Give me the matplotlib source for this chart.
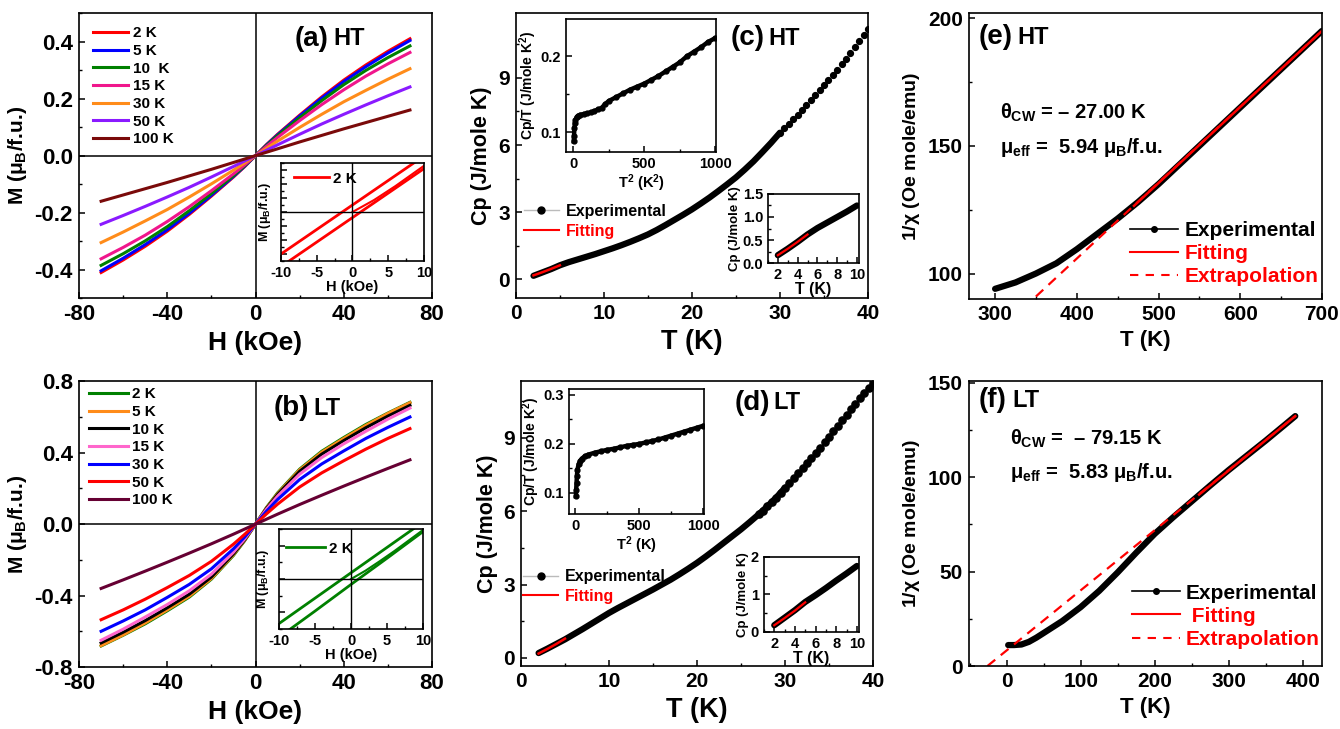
import numpy as np
import matplotlib
matplotlib.use("Agg")
import matplotlib.pyplot as plt
from matplotlib.lines import Line2D
from matplotlib.ticker import MultipleLocator, FormatStrFormatter

plt.rcParams.update({
    'font.family': ['Liberation Sans', 'DejaVu Sans'],
    'font.weight': 'bold',
    'axes.labelweight': 'bold',
    'axes.unicode_minus': False,
    'xtick.direction': 'in',
    'ytick.direction': 'in',
    'mathtext.fontset': 'custom',
    'mathtext.rm': 'Liberation Sans:bold',
    'mathtext.it': 'Liberation Sans:bold',
    'mathtext.bf': 'Liberation Sans:bold',
    'axes.linewidth': 1.2,
})

# ---------------- data ----------------
# (a) M-H, HT
H_field = [-70, -60, -50, -40, -30, -20, -10, -5, 0, 5, 10, 20, 30, 40, 50, 60, 70]
mh_ht_labels = ['2 K', '5 K', '10  K', '15 K', '30 K', '50 K', '100 K']
mh_ht_colors = ['#ff0000', '#0000ff', '#008000', '#f0168c', '#ff8c1a', '#8a1aff', '#7a0a0a']
mh_ht_2K = [-0.410, -0.366, -0.318, -0.265, -0.206, -0.142, -0.075, -0.039, 0, 0.039, 0.075, 0.142, 0.206, 0.265, 0.318, 0.366, 0.410]
mh_ht_5K = [-0.404, -0.360, -0.312, -0.260, -0.202, -0.139, -0.073, -0.038, 0, 0.038, 0.073, 0.139, 0.202, 0.260, 0.312, 0.360, 0.404]
mh_ht_10K = [-0.385, -0.344, -0.299, -0.249, -0.193, -0.133, -0.070, -0.036, 0, 0.036, 0.070, 0.133, 0.193, 0.249, 0.299, 0.344, 0.385]
mh_ht_15K = [-0.362, -0.322, -0.279, -0.231, -0.179, -0.123, -0.064, -0.033, 0, 0.033, 0.064, 0.123, 0.179, 0.231, 0.279, 0.322, 0.362]
mh_ht_30K = [-0.305, -0.268, -0.229, -0.189, -0.145, -0.099, -0.051, -0.026, 0, 0.026, 0.051, 0.099, 0.145, 0.189, 0.229, 0.268, 0.305]
mh_ht_50K = [-0.241, -0.210, -0.178, -0.145, -0.111, -0.075, -0.038, -0.019, 0, 0.019, 0.038, 0.075, 0.111, 0.145, 0.178, 0.210, 0.241]
mh_ht_100K = [-0.160, -0.138, -0.116, -0.094, -0.071, -0.048, -0.024, -0.012, 0, 0.012, 0.024, 0.048, 0.071, 0.094, 0.116, 0.138, 0.160]

# (b) M-H, LT
mh_lt_labels = ['2 K', '5 K', '10 K', '15 K', '30 K', '50 K', '100 K']
mh_lt_colors = ['#008000', '#ff8c1a', '#000000', '#ff66cc', '#0000ff', '#ff0000', '#660033']
mh_lt_2K = [-0.682, -0.622, -0.558, -0.485, -0.408, -0.308, -0.175, -0.094, 0, 0.094, 0.175, 0.308, 0.408, 0.485, 0.558, 0.622, 0.682]
mh_lt_5K = [-0.680, -0.620, -0.553, -0.480, -0.403, -0.304, -0.171, -0.092, 0, 0.092, 0.171, 0.304, 0.403, 0.480, 0.553, 0.620, 0.680]
mh_lt_10K = [-0.665, -0.605, -0.540, -0.468, -0.392, -0.296, -0.166, -0.089, 0, 0.089, 0.166, 0.296, 0.392, 0.468, 0.540, 0.605, 0.665]
mh_lt_15K = [-0.650, -0.588, -0.520, -0.450, -0.373, -0.280, -0.157, -0.084, 0, 0.084, 0.157, 0.280, 0.373, 0.450, 0.520, 0.588, 0.650]
mh_lt_30K = [-0.600, -0.542, -0.480, -0.410, -0.337, -0.250, -0.138, -0.073, 0, 0.073, 0.138, 0.250, 0.337, 0.410, 0.480, 0.542, 0.600]
mh_lt_50K = [-0.535, -0.480, -0.420, -0.355, -0.287, -0.208, -0.112, -0.058, 0, 0.058, 0.112, 0.208, 0.287, 0.355, 0.420, 0.480, 0.535]
mh_lt_100K = [-0.360, -0.312, -0.263, -0.213, -0.162, -0.110, -0.056, -0.028, 0, 0.028, 0.056, 0.110, 0.162, 0.213, 0.263, 0.312, 0.360]

# hysteresis loops at 2 K (insets)
loop_H = [-10, -5, 0, 5, 10]
loop_ht_up = [-0.060, -0.025, 0.010, 0.045, 0.080]
loop_ht_down = [-0.078, -0.043, -0.008, 0.027, 0.062]
virgin_ht_H = [0, 3, 6, 10]
virgin_ht_M = [0, 0.017, 0.037, 0.066]
loop_lt_up = [-0.107, -0.046, 0.015, 0.076, 0.137]
loop_lt_down = [-0.140, -0.077, -0.013, 0.050, 0.114]
virgin_lt_H = [0, 2, 4, 6, 10]
virgin_lt_M = [0, 0.020, 0.043, 0.067, 0.118]

# (c)/(d) heat capacity, dense part (1 K steps)
T_cp = list(range(2, 31))
cp_ht = [0.15, 0.30, 0.45, 0.62, 0.76, 0.88, 1.00, 1.12, 1.25, 1.38, 1.52, 1.67, 1.83, 2.00,
         2.20, 2.42, 2.65, 2.88, 3.12, 3.38, 3.65, 3.94, 4.24, 4.55, 4.90, 5.27, 5.68, 6.10, 6.55]
cp_lt = [0.20, 0.38, 0.57, 0.76, 0.97, 1.18, 1.40, 1.62, 1.84, 2.04, 2.23, 2.42, 2.61, 2.80,
         3.00, 3.20, 3.42, 3.65, 3.89, 4.15, 4.42, 4.70, 4.98, 5.26, 5.56, 5.87, 6.20, 6.56, 6.96]
# sparse part (separate dots)
T_hi_ht = [30, 30.5, 31, 31.5, 32, 32.5, 33, 33.5, 34, 34.5, 35, 35.5, 36, 36.5, 37, 37.5, 38,
           38.5, 39, 39.5, 40]
cp_hi_ht = [6.55, 6.75, 6.95, 7.15, 7.35, 7.56, 7.78, 8.00, 8.22, 8.44, 8.67, 8.90, 9.13, 9.37,
            9.62, 9.87, 10.12, 10.38, 10.65, 10.92, 11.20]
T_hi_lt = [27, 27.5, 28, 28.5, 29, 29.5, 30, 30.5, 31, 31.5, 32, 32.5, 33, 33.5, 34, 34.5, 35,
           35.5, 36, 36.5, 37, 37.5, 38, 38.5, 39, 39.5, 40]
cp_hi_lt = [5.87, 6.03, 6.20, 6.38, 6.56, 6.76, 6.96, 7.15, 7.35, 7.55, 7.75, 7.96, 8.17, 8.38,
            8.60, 8.82, 9.05, 9.27, 9.50, 9.72, 9.95, 10.17, 10.40, 10.62, 10.85, 11.05, 11.25]
T_fit = [2, 3, 4, 5]
cp_fit_ht = [0.17, 0.31, 0.46, 0.62]
cp_fit_lt = [0.18, 0.37, 0.57, 0.79]

# Cp/T vs T^2 insets
T2_ht = [4, 6, 9, 12, 16, 25, 36, 50, 75, 100, 125, 150, 175, 200, 225, 250, 300, 350, 400,
         450, 500, 550, 600, 650, 700, 750, 800, 850, 900, 950, 1000]
cpT_ht = [0.088, 0.095, 0.105, 0.112, 0.116, 0.120, 0.122, 0.123, 0.124, 0.125, 0.126, 0.128,
          0.130, 0.132, 0.137, 0.141, 0.146, 0.151, 0.156, 0.160, 0.164, 0.169, 0.174, 0.180,
          0.186, 0.192, 0.200, 0.206, 0.212, 0.219, 0.224]
T2_lt = [4, 6, 9, 12, 16, 25, 36, 50, 75, 100, 150, 200, 250, 300, 350, 400, 450, 500, 550,
         600, 650, 700, 750, 800, 850, 900, 950, 1000]
cpT_lt = [0.093, 0.105, 0.120, 0.135, 0.147, 0.158, 0.165, 0.170, 0.175, 0.178, 0.182, 0.185,
          0.188, 0.190, 0.193, 0.196, 0.198, 0.200, 0.203, 0.206, 0.209, 0.213, 0.217, 0.221,
          0.225, 0.229, 0.233, 0.237]

# low-T Cp insets
T_low = [2, 3, 4, 5, 6, 7, 8, 9, 10]
cp_low_ht = [0.17, 0.31, 0.46, 0.62, 0.76, 0.88, 1.00, 1.12, 1.25]
cp_low_lt = [0.18, 0.38, 0.58, 0.80, 0.98, 1.17, 1.37, 1.56, 1.76]

# (e) inverse susceptibility HT
T_ht = [300, 325, 350, 375, 400, 425, 450, 475, 500, 525, 550, 575, 600, 625, 650, 675, 700]
invchi_ht = [94.0, 96.5, 100.0, 104.0, 109.5, 115.5, 121.5, 128.0, 135.0, 142.5, 150.0,
             157.5, 165.0, 172.5, 180.0, 187.5, 195.0]
T_fit_ht = [470, 700]
fit_ht = [126.5, 195.0]
T_ext_ht = [350, 700]
ext_ht = [91.0, 195.0]

# (f) inverse susceptibility LT
T_lt = [2, 10, 20, 30, 40, 50, 75, 100, 125, 150, 175, 200, 225, 250, 275, 300, 325, 350, 375, 390]
invchi_lt = [11.1, 11.1, 11.4, 12.8, 15.0, 17.5, 23.8, 31.2, 39.8, 49.6, 60.0, 70.0, 78.8,
             87.2, 95.6, 103.8, 111.6, 119.4, 127.5, 132.4]
T_fit_lt = [260, 390]
fit_lt = [90.8, 132.4]
T_ext_lt = [-26, 390]
ext_lt = [0.0, 132.4]


def style(ax, xmaj, xmin, ymaj, ymin, size, pad=3.5):
    ax.xaxis.set_major_locator(MultipleLocator(xmaj))
    ax.xaxis.set_minor_locator(MultipleLocator(xmin))
    ax.yaxis.set_major_locator(MultipleLocator(ymaj))
    ax.yaxis.set_minor_locator(MultipleLocator(ymin))
    ax.tick_params(which='major', length=4, width=1.1, labelsize=size, pad=pad)
    ax.tick_params(which='minor', length=2.2, width=1.0)


fig = plt.figure(figsize=(13.4, 7.29), dpi=100)


def mh_panel(rect, curves, colors, labels, ylim, ymaj, tag, leg_y, hl):
    ax = fig.add_axes(rect)
    for m, c, lab in zip(curves, colors, labels):
        ax.plot(H_field, m, color=c, lw=2.2, label=lab)
    ax.axhline(0, color='k', lw=1.1, zorder=0)
    ax.axvline(0, color='k', lw=1.1, zorder=0)
    ax.set_xlim(-80, 80)
    ax.set_ylim(*ylim)
    style(ax, 40, 20, ymaj, ymaj / 2, 16, pad=4.5)
    ax.set_xlabel('H (kOe)', fontsize=19)
    ax.set_ylabel(r'M ($\mu_B$/f.u.)', fontsize=15)
    ax.legend(loc='upper left', bbox_to_anchor=(leg_y[0], leg_y[1]), frameon=False, fontsize=11,
              borderpad=0, labelspacing=0.24, handlelength=hl, handletextpad=0.3)
    ax.text(tag[0], tag[2], tag[3], transform=ax.transAxes, fontsize=20, va='center')
    ax.text(tag[1], tag[2], tag[4], transform=ax.transAxes, fontsize=17, va='center')


def loop_inset(rect, up, down, vH, vM, color, ylim, ymaj, leg_xy, hl):
    ins = fig.add_axes(rect)
    ins.plot(loop_H, up, color=color, lw=2, label='2 K')
    ins.plot(loop_H, down, color=color, lw=2)
    ins.plot(vH, vM, color=color, lw=1.5)
    ins.axhline(0, color='k', lw=1)
    ins.axvline(0, color='k', lw=1)
    ins.set_xlim(-10, 10)
    ins.set_ylim(*ylim)
    style(ins, 5, 2.5, ymaj, ymaj / 2, 10.5)
    ins.set_yticklabels([])
    ins.set_xlabel('H (kOe)', fontsize=10.5, labelpad=0)
    ins.set_ylabel(r'M ($\mu_B$/f.u.)', fontsize=9, labelpad=2)
    ins.legend(loc='upper left', bbox_to_anchor=leg_xy, frameon=False, fontsize=11,
               borderpad=0, handlelength=hl, handletextpad=0.3)


# ---------- (a) / (b) ----------
mh_panel([0.059, 0.591, 0.2634, 0.391],
         [mh_ht_2K, mh_ht_5K, mh_ht_10K, mh_ht_15K, mh_ht_30K, mh_ht_50K, mh_ht_100K],
         mh_ht_colors, mh_ht_labels, (-0.5, 0.5), 0.2, (0.612, 0.72, 0.91, '(a)', 'HT'),
         (0.018, 0.98), 2.3)
loop_inset([0.2097, 0.642, 0.1067, 0.1344], loop_ht_up, loop_ht_down, virgin_ht_H, virgin_ht_M,
           '#ff0000', (-0.07, 0.07), 0.02, (0.035, 0.99), 2.3)

mh_panel([0.059, 0.085, 0.2634, 0.392],
         [mh_lt_2K, mh_lt_5K, mh_lt_10K, mh_lt_15K, mh_lt_30K, mh_lt_50K, mh_lt_100K],
         mh_lt_colors, mh_lt_labels, (-0.8, 0.8), 0.4, (0.552, 0.663, 0.906, '(b)', 'LT'),
         (0.006, 1.005), 2.55)
loop_inset([0.2082, 0.1372, 0.1075, 0.137], loop_lt_up, loop_lt_down, virgin_lt_H, virgin_lt_M,
           '#008000', (-0.12, 0.12), 0.08, (-0.005, 0.95), 2.55)

# ---------- (c) / (d) ----------
exp_handle = Line2D([], [], color='#bbbbbb', lw=1, marker='o', mfc='k', mec='k', ms=5)


def cp_panel(rect, cp, T_hi, cp_hi, cpfit, ylim, tag, label, ly, ms, in1, T2, cpT, in1_ylim, in1_xl,
             in2, cplow, in2_ylim, in2_yt):
    ax = fig.add_axes(rect)
    ax.plot(T_cp, cp, '-', color='k', lw=4.5, solid_capstyle='round')
    ax.plot(T_hi, cp_hi, 'o', color='k', ms=ms)
    ax.plot(T_fit, cpfit, color='#ff0000', lw=1.8)
    ax.set_xlim(0, 40)
    ax.set_ylim(*ylim)
    style(ax, 10, 5, 3, 1.5, 15, pad=4.5)
    ax.set_xlabel('T (K)', fontsize=19.5)
    ax.set_ylabel('Cp (J/mole K)', fontsize=15.5)
    leg = ax.legend([exp_handle, Line2D([], [], color='#ff0000', lw=1.5)], ['Experimental', 'Fitting'],
                    loc='upper left', bbox_to_anchor=ly, frameon=False, fontsize=11.5,
                    borderpad=0, labelspacing=0.3, handlelength=2.2, handletextpad=0.4)
    leg.get_texts()[1].set_color('#ff0000')
    ax.text(tag[0], tag[2], tag[3], transform=ax.transAxes, fontsize=20, va='center')
    ax.text(tag[1], tag[2], label, transform=ax.transAxes, fontsize=17, va='center')

    i1 = fig.add_axes(in1)
    i1.plot(T2, cpT, '-o', color='k', lw=3.2, ms=3.5)
    i1.set_xlim(-50, 1005)
    i1.set_ylim(*in1_ylim)
    style(i1, 500, 250, 0.1, 0.05, 10.5)
    i1.set_xlabel(in1_xl, fontsize=10.5, labelpad=1)
    i1.set_ylabel(r'Cp/T (J/mole K$^2$)', fontsize=10, labelpad=1)

    i2 = fig.add_axes(in2)
    i2.plot(T_low, cplow, '-', color='k', lw=4.5, solid_capstyle='round')
    i2.plot(T_fit, cpfit, color='#ff0000', lw=1.6)
    i2.set_xlim(1.0, 10.2)
    i2.set_ylim(*in2_ylim)
    style(i2, 2, 1, in2_yt, in2_yt / 2, 10.5)
    if in2_yt < 1:
        i2.yaxis.set_major_formatter(FormatStrFormatter('%.1f'))
    i2.set_xlabel('T (K)', fontsize=11.5, labelpad=0)
    i2.set_ylabel('Cp (J/mole K)', fontsize=9.5, labelpad=1)


cp_panel([0.385, 0.591, 0.2627, 0.391], cp_ht, T_hi_ht, cp_hi_ht, cp_fit_ht, (-0.85, 11.9),
         (0.61, 0.716, 0.912, '(c)'), 'HT', (0.0, 0.359), 4.2,
         [0.4224, 0.7915, 0.112, 0.1824], T2_ht, cpT_ht, (0.074, 0.249),
         r'T$^2$ (K$^2$)', [0.5731, 0.6392, 0.0679, 0.0947], cp_low_ht, (0, 1.5), 0.5)
cp_panel([0.3888, 0.0864, 0.2627, 0.391], cp_lt, T_hi_lt, cp_hi_lt, cp_fit_lt, (-0.33, 11.33),
         (0.608, 0.716, 0.923, '(d)'), 'LT', (-0.017, 0.368), 5.2,
         [0.4246, 0.2949, 0.1007, 0.1715], T2_lt, cpT_lt, (0.057, 0.312),
         r'T$^2$ (K)', [0.5701, 0.1331, 0.0709, 0.1029], cp_low_lt, (0, 2), 1)

# ---------- (e) / (f) ----------


def chi_panel(rect, T, y, Tf, yf, Te, ye, xlim, ylim, tag, label, txt, leg_xy, fit_label):
    ax = fig.add_axes(rect)
    ax.plot(T, y, '-', color='k', lw=4.5, solid_capstyle='round')
    ax.plot(Te, ye, color='#ff0000', lw=1.6, ls=(0, (4.5, 3.2)))
    ax.plot(Tf, yf, color='#ff0000', lw=1.8)
    ax.set_xlim(*xlim)
    ax.set_ylim(*ylim)
    style(ax, 100, 50, 50, 25, 15, pad=4.5)
    ax.set_xlabel('T (K)', fontsize=16)
    ax.set_ylabel(r'1/$\chi$ (Oe mole/emu)', fontsize=14)
    handles = [Line2D([], [], color='k', lw=1.2, marker='o', ms=4),
               Line2D([], [], color='#ff0000', lw=1.5),
               Line2D([], [], color='#ff0000', lw=1.5, ls=(0, (4, 3.5)))]
    leg = ax.legend(handles, ['Experimental', fit_label, 'Extrapolation'], loc='upper left',
                    bbox_to_anchor=leg_xy, frameon=False, fontsize=15, borderpad=0,
                    labelspacing=0.2, handlelength=2.3, handletextpad=0.3)
    leg.get_texts()[1].set_color('#ff0000')
    leg.get_texts()[2].set_color('#ff0000')
    ax.text(tag[0], tag[2], tag[3], transform=ax.transAxes, fontsize=20, va='center')
    ax.text(tag[1], tag[2], label, transform=ax.transAxes, fontsize=17, va='center')
    ax.text(txt[0], txt[1], txt[3], transform=ax.transAxes, fontsize=14.5, va='center')
    ax.text(txt[0], txt[2], txt[4], transform=ax.transAxes, fontsize=14.5, va='center')


chi_panel([0.7231, 0.5898, 0.2634, 0.3923], T_ht, invchi_ht, T_fit_ht, fit_ht, T_ext_ht, ext_ht,
          (268, 700), (90, 202), (0.028, 0.136, 0.915, '(e)'), 'HT',
          (0.088, 0.65, 0.53, r'$\theta_{CW}$ = – 27.00 K', r'$\mu_{eff}$ =  5.94 $\mu_B$/f.u.'),
          (0.428, 0.31), 'Fitting')
chi_panel([0.7231, 0.0864, 0.2634, 0.391], T_lt, invchi_lt, T_fit_lt, fit_lt, T_ext_lt, ext_lt,
          (-51, 426), (0, 151), (0.026, 0.122, 0.933, '(f)'), 'LT',
          (0.116, 0.796, 0.68, r'$\theta_{CW}$ =  – 79.15 K', r'$\mu_{eff}$ =  5.83 $\mu_B$/f.u.'),
          (0.432, 0.326), ' Fitting')

fig.savefig('out.png', dpi=100)
